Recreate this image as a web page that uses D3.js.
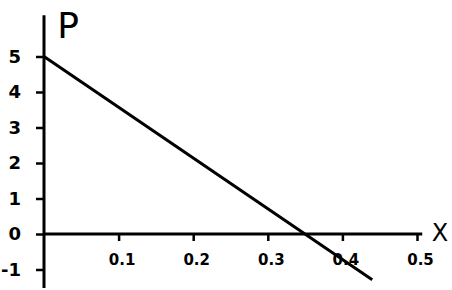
<!DOCTYPE html>
<html><head><meta charset="utf-8">
<script src="https://cdn.jsdelivr.net/npm/d3@7"></script>
<style>body{margin:0;background:#fff}svg{display:block}</style>
</head><body>
<script>
const xTicks = [0.1, 0.2, 0.3, 0.4, 0.5];
const xTickLabels = ["0.1", "0.2", "0.3", "0.4", "0.5"];
const yTicks = [-1, 0, 1, 2, 3, 4, 5];
const yTickLabels = ["-1", "0", "1", "2", "3", "4", "5"];
const lineX = [0, 0.44];
const lineP = [5, -1.29];
const axisLabels = ["X", "P"];

const W = 452, H = 290;
const svg = d3.select("body").append("svg").attr("width", W).attr("height", H);
const x = d3.scaleLinear().domain([0, 0.5]).range([44, 417]);
const y = d3.scaleLinear().domain([-1, 5]).range([269.5, 56.5]);
const font = "DejaVu Sans, sans-serif";

// axis lines
svg.append("line").attr("x1", x(0)).attr("x2", x(0)).attr("y1", y(6.16)).attr("y2", y(-1.52))
  .attr("stroke", "#000").attr("stroke-width", 3);
svg.append("line").attr("x1", x(0)).attr("x2", x(0.507)).attr("y1", y(0)).attr("y2", y(0))
  .attr("stroke", "#000").attr("stroke-width", 3);

const gx = svg.append("g").attr("transform", `translate(0,${y(0)})`)
  .call(d3.axisBottom(x).tickValues(xTicks).tickFormat((d, i) => xTickLabels[i]).tickSize(7).tickPadding(13));
gx.select(".domain").remove();
gx.selectAll(".tick line").attr("stroke", "#000").attr("stroke-width", 2.5);
gx.selectAll(".tick text").attr("font-family", font).attr("font-size", 15).attr("font-weight", "bold")
  .attr("dx", 3).attr("fill", "#000");

const gy = svg.append("g").attr("transform", `translate(${x(0) + 1},0)`)
  .call(d3.axisLeft(y).tickValues(yTicks).tickFormat((d, i) => yTickLabels[i]).tickSize(9).tickPadding(15));
gy.select(".domain").remove();
gy.selectAll(".tick line").attr("stroke", "#000").attr("stroke-width", 2.5);
gy.selectAll(".tick text").attr("font-family", font).attr("font-size", 18).attr("font-weight", "bold").attr("fill", "#000");

// data line
const pts = lineX.map((v, i) => [v, lineP[i]]);
svg.append("path").datum(pts)
  .attr("d", d3.line().x(d => x(d[0])).y(d => y(d[1])))
  .attr("fill", "none").attr("stroke", "#000").attr("stroke-width", 3);

// axis labels
svg.append("text").attr("x", 440).attr("y", 241).attr("text-anchor", "middle")
  .attr("font-family", font).attr("font-size", 24).text(axisLabels[0]);
svg.append("text").attr("x", 68).attr("y", 38).attr("text-anchor", "middle")
  .attr("font-family", font).attr("font-size", 36).text(axisLabels[1]);
</script>
</body></html>
